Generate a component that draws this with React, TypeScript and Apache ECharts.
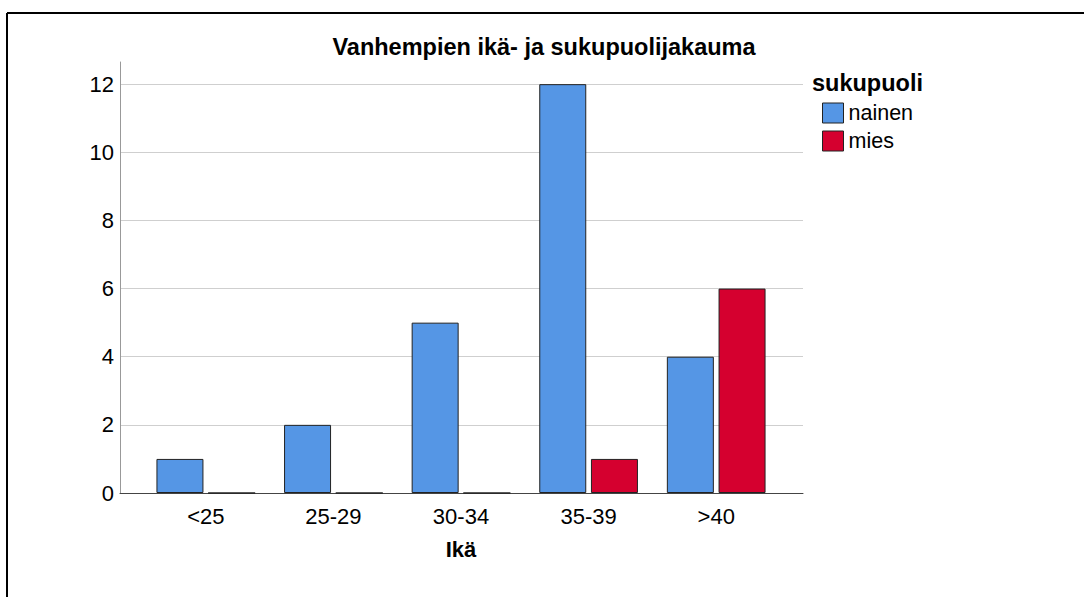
import React, { useEffect, useRef } from "react";
import * as echarts from "echarts";

const categories = ["<25", "25-29", "30-34", "35-39", ">40"];
const nainen = [1, 2, 5, 12, 4];
const mies = [0, 0, 0, 1, 6];
const seriesNames = ["nainen", "mies"];
const yTicks = [0, 2, 4, 6, 8, 10, 12];

const FONT = "'Liberation Sans', Arial, Helvetica, sans-serif";
const BLUE = "#5596E5";
const RED = "#D5002F";

export default function App() {
  const ref = useRef<HTMLDivElement>(null);
  useEffect(() => {
    if (!ref.current) return;
    const chart = echarts.init(ref.current, null, { renderer: "svg" });
    const yMax = 12.65;
    chart.setOption({
      animation: false,
      backgroundColor: "#ffffff",
      textStyle: { fontFamily: FONT },
      graphic: [
        { type: "line", shape: { x1: 7, y1: 13, x2: 1090, y2: 13 }, style: { stroke: "#000", lineWidth: 2 } },
        { type: "line", shape: { x1: 7, y1: 13, x2: 7, y2: 600 }, style: { stroke: "#000", lineWidth: 2 } },
        {
          type: "text", x: 544, y: 47,
          style: { text: "Vanhempien ikä- ja sukupuolijakauma", fontFamily: FONT, fontSize: 23.5, fontWeight: "bold", fill: "#000", textAlign: "center", textVerticalAlign: "middle" },
        },
        {
          type: "text", x: 812, y: 83,
          style: { text: "sukupuoli", fontFamily: FONT, fontSize: 23.5, fontWeight: "bold", fill: "#000", textAlign: "left", textVerticalAlign: "middle" },
        },
      ],
      legend: {
        orient: "vertical",
        left: 822,
        top: 102,
        padding: 0,
        itemWidth: 21,
        itemHeight: 20,
        itemGap: 6,
        icon: "rect",
        textStyle: { fontFamily: FONT, fontSize: 21.5, color: "#000", lineHeight: 20 },
        data: [
          { name: seriesNames[0], itemStyle: { color: BLUE, borderColor: "#222", borderWidth: 1 } },
          { name: seriesNames[1], itemStyle: { color: RED, borderColor: "#222", borderWidth: 1 } },
        ],
      },
      grid: [
        { left: 120, right: 281, top: 62, bottom: 104 },
        { left: 142, right: 304, top: 62, bottom: 104 },
      ],
      xAxis: [
        {
          type: "value", gridIndex: 0, min: 0, max: 1,
          axisLine: { show: true, lineStyle: { color: "#444", width: 1 } },
          axisTick: { show: false }, axisLabel: { show: false }, splitLine: { show: false },
        },
        {
          type: "category", gridIndex: 1, data: categories,
          axisLine: { show: false }, axisTick: { show: false },
          axisLabel: { fontFamily: FONT, fontSize: 22, color: "#000", margin: 12 },
          name: "Ikä", nameLocation: "middle", nameGap: 45,
          nameTextStyle: { fontFamily: FONT, fontSize: 22, fontWeight: "bold", color: "#000" },
        },
      ],
      yAxis: [
        {
          type: "value", gridIndex: 0, min: 0, max: yMax, interval: 2,
          axisLine: { show: true, lineStyle: { color: "#999", width: 1 } },
          axisTick: { show: false },
          axisLabel: {
            fontFamily: FONT, fontSize: 22, color: "#000", margin: 6,
            formatter: (v: number) => (yTicks.indexOf(v) >= 0 ? String(v) : ""),
          },
          splitLine: { show: true, showMaxLine: false, lineStyle: { color: "#cfcfcf", width: 1 } },
        },
        { type: "value", gridIndex: 1, min: 0, max: yMax, show: false },
      ],
      series: [
        {
          name: seriesNames[0], type: "bar", xAxisIndex: 1, yAxisIndex: 1,
          data: nainen, barWidth: 47, barGap: "10%",
          itemStyle: { color: BLUE, borderColor: "#222", borderWidth: 1 },
        },
        {
          name: seriesNames[1], type: "bar", xAxisIndex: 1, yAxisIndex: 1,
          data: mies, barWidth: 47, barGap: "10%",
          itemStyle: { color: RED, borderColor: "#222", borderWidth: 1 },
        },
      ],
    });
    return () => chart.dispose();
  }, []);
  return (
    <div
      ref={ref}
      style={{ position: "fixed", left: 0, top: 0, width: 1084, height: 597, background: "#fff" }}
    />
  );
}
